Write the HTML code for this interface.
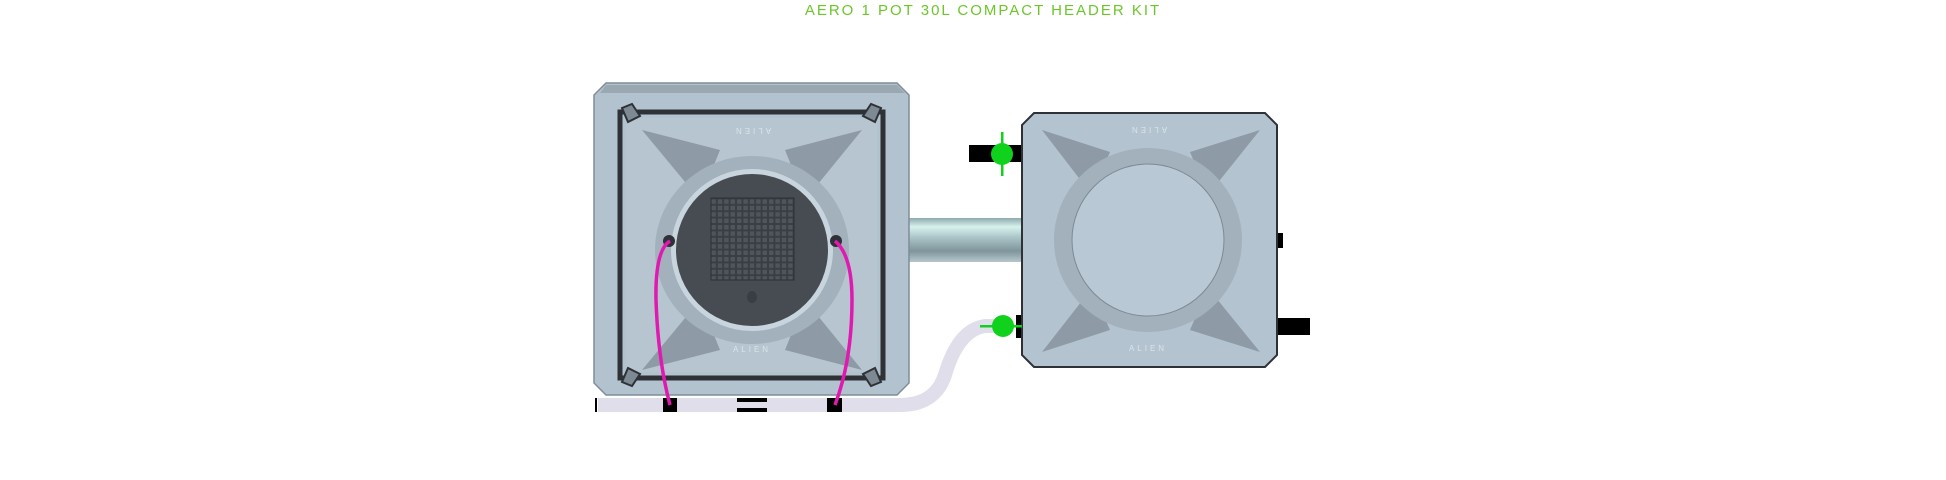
<!DOCTYPE html>
<html><head><meta charset="utf-8"><style>
html,body{margin:0;padding:0;background:#fff;width:1946px;height:480px;overflow:hidden}
svg{display:block}
</style></head><body>
<svg width="1946" height="480" viewBox="0 0 1946 480" xmlns="http://www.w3.org/2000/svg">
<defs>
<linearGradient id="pipe" x1="0" y1="0" x2="0" y2="1">
<stop offset="0" stop-color="#8fa9ad"/><stop offset="0.2" stop-color="#d6f2ec"/><stop offset="0.45" stop-color="#a9c3c6"/><stop offset="0.75" stop-color="#7f959b"/><stop offset="1" stop-color="#b5c7cc"/>
</linearGradient>
<pattern id="grid" width="6.4" height="6.4" patternUnits="userSpaceOnUse"><rect width="6.4" height="6.4" fill="#3a3e44"/><rect x="1" y="1" width="4.4" height="4.4" fill="#50555c"/></pattern>
</defs>
<text x="983" y="15" text-anchor="middle" font-family="Liberation Sans, sans-serif" font-size="15" letter-spacing="2" fill="#6cc62a">AERO 1 POT 30L COMPACT HEADER KIT</text>

<path d="M598 405 H900 Q935 405 945 375 Q958 330 985 326 H1010" fill="none" stroke="#e0deea" stroke-width="14"/>
<rect x="595" y="398" width="2" height="14" fill="#000"/>
<rect x="737" y="398" width="30" height="4" fill="#000"/>
<rect x="737" y="408" width="30" height="4" fill="#000"/>

<rect x="905" y="218" width="120" height="44" fill="url(#pipe)"/>

<polygon points="606,83 897,83 909,95 909,383 897,395 606,395 594,383 594,95" fill="#b2c2ce" stroke="#7f8d97" stroke-width="1.5"/>
<polygon points="606,85 897,85 905,93 600,93" fill="#9aa8b2"/>
<rect x="620" y="112" width="263" height="266" fill="none" stroke="#2e3237" stroke-width="5"/>
<rect x="626" y="118" width="251" height="254" fill="#b6c5d0"/>
<g fill="#8e9ba6">
<polygon points="642,130 720,150 700,200"/><polygon points="862,130 785,150 805,200"/>
<polygon points="642,370 720,350 700,300"/><polygon points="862,370 785,350 805,300"/>
</g>
<g fill="#7d8a94" stroke="#2e3237" stroke-width="2">
<polygon points="622,108 632,104 640,116 628,122"/><polygon points="881,108 871,104 863,116 875,122"/>
<polygon points="622,382 632,386 640,374 628,368"/><polygon points="881,382 871,386 863,374 875,368"/>
</g>
<ellipse cx="752" cy="250" rx="97" ry="94" fill="#a3b1bc"/>
<circle cx="752" cy="250" r="81" fill="#c9d5de"/>
<circle cx="752" cy="250" r="76" fill="#474c53"/>
<rect x="711" y="198" width="83" height="82" fill="url(#grid)" stroke="#2c2f34"/>
<ellipse cx="752" cy="297" rx="5" ry="6" fill="#3a3e44"/>
<text x="752" y="134" text-anchor="middle" font-family="Liberation Sans, sans-serif" font-size="8" letter-spacing="3" fill="#dbe4ea" transform="rotate(180 752 131)">ALIEN</text>
<text x="752" y="352" text-anchor="middle" font-family="Liberation Sans, sans-serif" font-size="8" letter-spacing="3" fill="#dbe4ea">ALIEN</text>
<circle cx="669" cy="241" r="6" fill="#2e3237"/><circle cx="836" cy="241" r="6" fill="#2e3237"/>
<rect x="663" y="398" width="14" height="14" fill="#000"/><rect x="827" y="398" width="15" height="14" fill="#000"/>
<path d="M670 241 Q655 250 656 300 Q658 360 670 405" fill="none" stroke="#e019b0" stroke-width="3.5"/>
<path d="M835 241 Q852 255 852 300 Q852 360 835 405" fill="none" stroke="#e019b0" stroke-width="3.5"/>

<rect x="969" y="145" width="53" height="17" fill="#000"/>
<rect x="1016" y="315" width="8" height="23" fill="#000"/>
<rect x="1277" y="233" width="6" height="15" fill="#000"/>
<rect x="1277" y="318" width="33" height="17" fill="#000"/>
<polygon points="1034,113 1265,113 1277,125 1277,355 1265,367 1034,367 1022,355 1022,125" fill="#b3c3cf" stroke="#2e3237" stroke-width="2"/>
<g fill="#8e9ba6">
<polygon points="1042,130 1110,152 1092,195"/><polygon points="1260,130 1190,152 1208,195"/>
<polygon points="1042,352 1110,330 1092,288"/><polygon points="1260,352 1190,330 1208,288"/>
</g>
<ellipse cx="1148" cy="240" rx="94" ry="92" fill="#a3b1bc"/>
<circle cx="1148" cy="240" r="76" fill="#b8c8d4" stroke="#7d8a94"/>
<text x="1148" y="133" text-anchor="middle" font-family="Liberation Sans, sans-serif" font-size="8" letter-spacing="3" fill="#dbe4ea" transform="rotate(180 1148 130)">ALIEN</text>
<text x="1148" y="351" text-anchor="middle" font-family="Liberation Sans, sans-serif" font-size="8" letter-spacing="3" fill="#dbe4ea">ALIEN</text>

<circle cx="1002" cy="154" r="11" fill="#10d21c"/>
<rect x="1001" y="132" width="2.5" height="44" fill="#10d21c"/>
<circle cx="1003" cy="326" r="11" fill="#10d21c"/>
<rect x="980" y="325" width="42" height="2.5" fill="#10d21c"/>
</svg>
</body></html>
